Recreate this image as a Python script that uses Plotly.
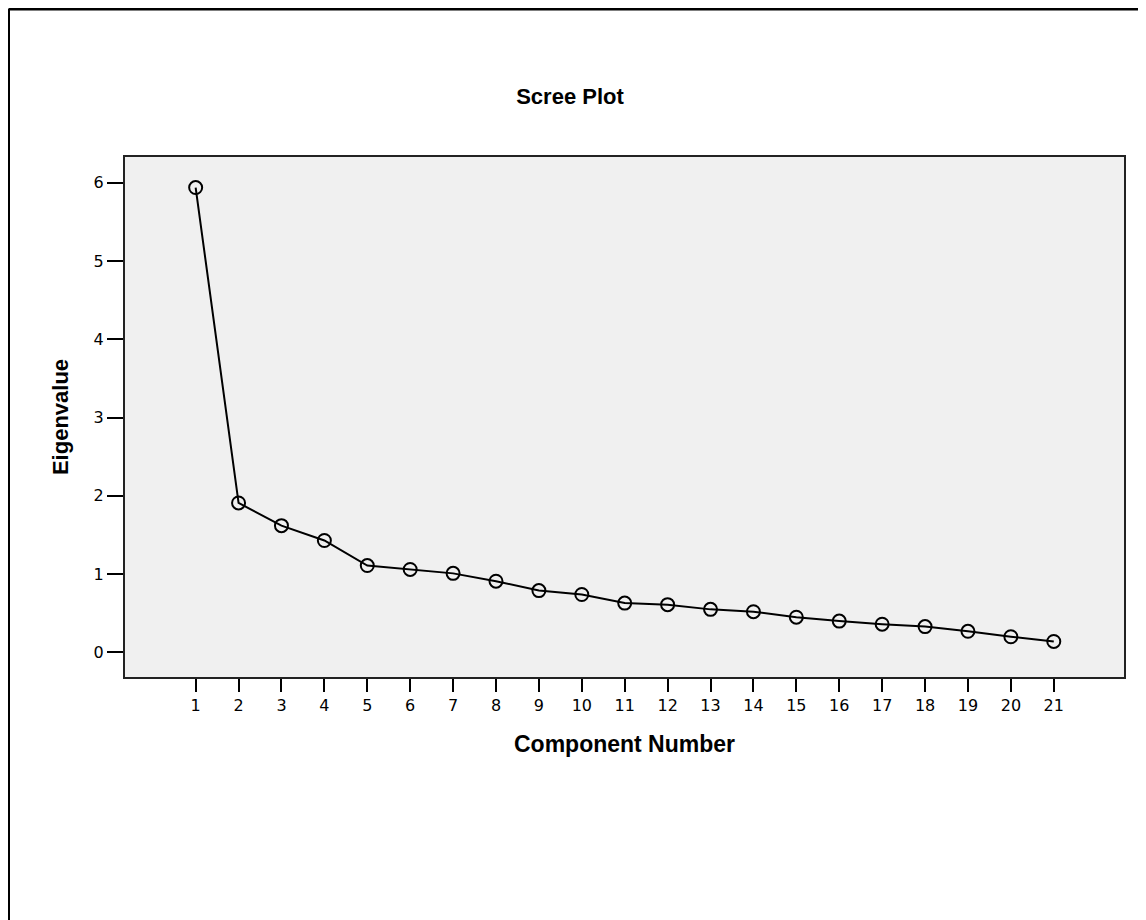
import plotly.graph_objects as go

components = list(range(1, 22))
eigenvalues = [5.94, 1.91, 1.62, 1.43, 1.11, 1.06, 1.01, 0.91, 0.79, 0.74,
               0.63, 0.61, 0.55, 0.52, 0.45, 0.40, 0.36, 0.33, 0.27, 0.20, 0.14]
y_ticks = [0, 1, 2, 3, 4, 5, 6]

# page has an 8px body margin, so figure coordinates = page coordinates - 8
OFF = 8
W, H = 1146 - OFF, 920 - OFF
L = 124 - OFF
T = 156 - OFF
R = (1146 - OFF) - (1125 - OFF)
B = H - (678 - OFF)
pw, ph = W - L - R, H - T - B

fig = go.Figure()
fig.add_trace(go.Scatter(
    x=components, y=eigenvalues, mode="lines+markers",
    line=dict(color="black", width=2),
    marker=dict(symbol="circle-open", size=13, color="black", line=dict(width=2)),
    showlegend=False, hoverinfo="x+y"))

def px(xp):
    return (xp - OFF - L) / pw

def py(yp):
    return (H - B - (yp - OFF)) / ph

fig.update_layout(
    width=W, height=H,
    margin=dict(l=L, r=R, t=T, b=B),
    paper_bgcolor="white", plot_bgcolor="#f0f0f0",
    font=dict(family="Arial, Liberation Sans, sans-serif", color="black"),
    title=dict(text="<b>Scree Plot</b>", x=(570 - OFF) / W, xanchor="center",
               y=1 - (96 - OFF) / H, yanchor="middle", font=dict(size=22)),
    xaxis=dict(range=[-0.67, 22.66], tickvals=components,
               ticktext=[str(c) for c in components],
               showgrid=False, zeroline=False, showline=False,
               ticks="outside", ticklen=13, tickwidth=2, tickcolor="black",
               tickfont=dict(size=16, family="DejaVu Sans"),
               title=dict(text="<b>Component Number</b>", font=dict(size=23), standoff=21)),
    yaxis=dict(range=[-0.327, 6.343], tickvals=y_ticks,
               showgrid=False, zeroline=False, showline=False,
               ticks="outside", ticklen=16, tickwidth=2, tickcolor="black",
               tickfont=dict(size=16, family="DejaVu Sans"),
               title=dict(text="<b>Eigenvalue</b>", font=dict(size=22), standoff=18)),
    shapes=[
        dict(type="rect", xref="paper", yref="paper", x0=0, x1=1, y0=0, y1=1,
             line=dict(color="#222222", width=2), fillcolor="rgba(0,0,0,0)", layer="above"),
        dict(type="line", xref="paper", yref="paper", x0=px(8.5), x1=px(1150),
             y0=py(9), y1=py(9), line=dict(color="black", width=3)),
        dict(type="line", xref="paper", yref="paper", x0=px(8.5), x1=px(8.5),
             y0=py(9), y1=py(930), line=dict(color="black", width=3)),
    ],
)

fig.write_html("out.html")
